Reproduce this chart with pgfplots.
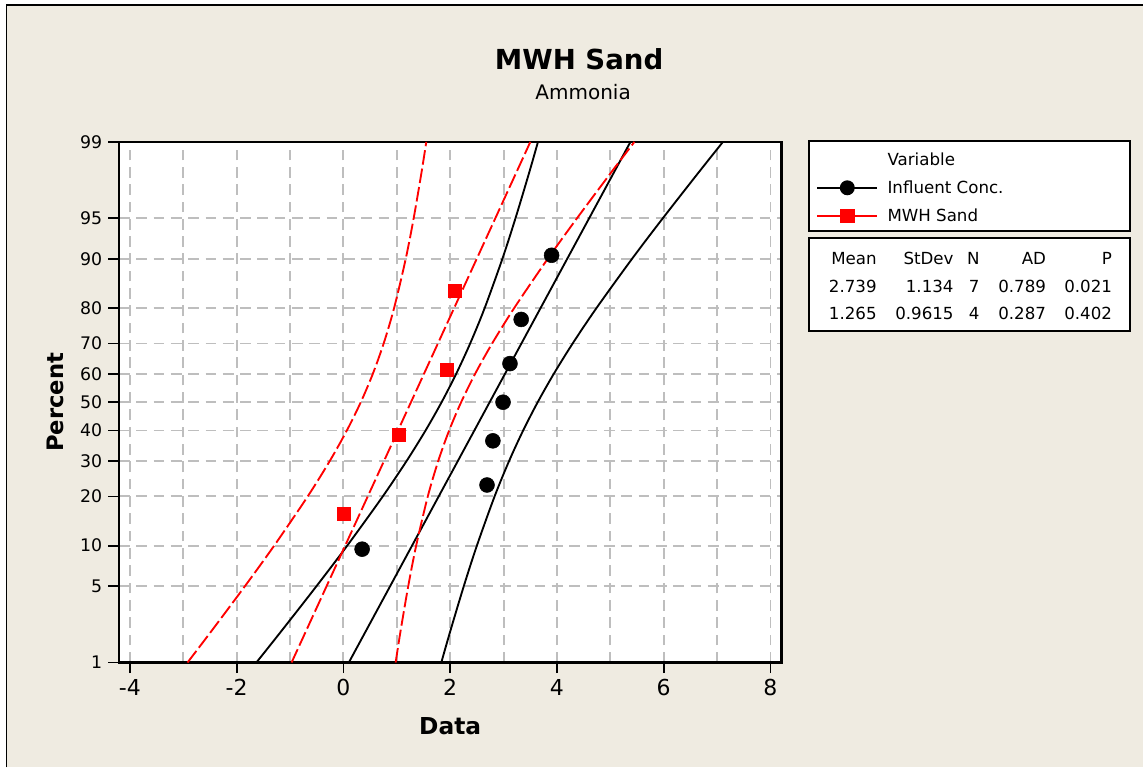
\documentclass[border=0pt]{standalone}
\usepackage{fontspec}
\setmainfont{DejaVu Sans}
\usepackage{pgfplots}
\pgfplotsset{compat=1.18}
\definecolor{bg}{RGB}{239,235,225}
\definecolor{gridgray}{RGB}{190,190,190}
\begin{document}
\begin{tikzpicture}[x=1pt,y=1pt]
\fill[white] (-89.25,-78.75) rectangle (768.75,497.25);
\fill[bg] (-84.375,-78.75) rectangle (768.75,493.5);
\draw[line width=1.2pt] (-84.375,-78.75) -- (-84.375,493.5) -- (768.75,493.5);
\useasboundingbox (-89.25,-78.75) rectangle (768.75,497.25);
% legend and stats boxes
\draw[line width=1.4pt, fill=white] (517.7,391.5) rectangle (758.8,324.2);
\draw[line width=1.4pt, fill=white] (517.7,318.5) rectangle (758.8,249);
\begin{axis}[
  scale only axis, width=497.25pt, height=390.75pt,
  at={(0pt,0pt)}, anchor=south west,
  xmin=-4.206, xmax=8.206, ymin=-2.3263, ymax=2.3263,
  axis background/.style={fill=white},
  xtick={-4,-2,0,2,4,6,8}, xticklabels={-4,-2,0,2,4,6,8},
  minor xtick={-3,-1,1,3,5,7},
  ytick={-2.3263,-1.6449,-1.2816,-0.8416,-0.5244,-0.2533,0,0.2533,0.5244,0.8416,1.2816,1.6449,2.3263},
  yticklabels={1,5,10,20,30,40,50,60,70,80,90,95,99},
  tick pos=left, tick align=outside,
  major tick length=8pt, minor tick length=0pt,
  tick style={black, line width=1.3pt},
  axis line style={line width=1.6pt},
  xmajorgrids, ymajorgrids, xminorgrids,
  major grid style={gridgray, line width=1.4pt, dash pattern=on 8pt off 5pt},
  minor grid style={gridgray, line width=1.4pt, dash pattern=on 8pt off 5pt},
  x tick label style={font=\fontsize{16.5}{18}\selectfont, yshift=-1pt},
  y tick label style={font=\fontsize{13}{15}\selectfont, xshift=-1pt},
  xlabel={Data}, ylabel={Percent},
  xlabel style={font=\fontsize{17.5}{20}\selectfont\bfseries, at={(axis description cs:0.5,-0.1228)}, anchor=center},
  ylabel style={font=\fontsize{17}{20}\selectfont\bfseries, at={(axis description cs:-0.0965,0.5)}, anchor=center},
  legend style={at={(1.0463,0.9904)}, anchor=north west, draw=none, fill=none,
    font=\fontsize{12.5}{15}\selectfont, row sep=6pt},
  legend cell align=left,
  legend image code/.code={\draw[mark repeat=2,mark phase=2,#1] plot coordinates {(0pt,0pt) (22.5pt,0pt) (45pt,0pt)}; \path (50pt,0pt);},
]
% Influent Conc. (black): fit and confidence bands
\addplot[black, line width=1.4pt, forget plot] coordinates {(0.101,-2.3263) (5.377,2.3263)};
\addplot[black, line width=1.4pt, smooth, forget plot] coordinates {(-1.6316,-2.3263) (-1.1768,-2.0537) (-0.5068,-1.6449) (0.0711,-1.2816) (0.7373,-0.8416) (1.1844,-0.5244) (1.5375,-0.2533) (1.839,0) (2.1119,0.2533) (2.3738,0.5244) (2.6461,0.8416) (2.9777,1.2816) (3.2238,1.6449) (3.4810,2.0537) (3.6444,2.3263)};
\addplot[black, line width=1.4pt, smooth, forget plot] coordinates {(1.8336,-2.3263) (1.9970,-2.0537) (2.2542,-1.6449) (2.5003,-1.2816) (2.8319,-0.8416) (3.1042,-0.5244) (3.3661,-0.2533) (3.639,0) (3.9405,0.2533) (4.2936,0.5244) (4.7407,0.8416) (5.4069,1.2816) (5.9848,1.6449) (6.6548,2.0537) (7.1096,2.3263)};
% MWH Sand (red): fit and confidence bands
\addplot[red, line width=1.4pt, dash pattern=on 11pt off 3pt, forget plot] coordinates {(-0.9717,-2.3263) (3.5017,2.3263)};
\addplot[red, line width=1.4pt, dash pattern=on 11pt off 3pt, smooth, forget plot] coordinates {(-2.9212,-2.3263) (-2.4864,-2.0537) (-1.8469,-1.6449) (-1.2973,-1.2816) (-0.6691,-0.8416) (-0.2550,-0.5244) (0.0632,-0.2533) (0.325,0) (0.5502,0.2533) (0.7534,0.5244) (0.9493,0.8416) (1.1673,1.2816) (1.3163,1.6449) (1.4628,2.0537) (1.5522,2.3263)};
\addplot[red, line width=1.4pt, dash pattern=on 11pt off 3pt, smooth, forget plot] coordinates {(0.9778,-2.3263) (1.0672,-2.0537) (1.2137,-1.6449) (1.3627,-1.2816) (1.5807,-0.8416) (1.7766,-0.5244) (1.9798,-0.2533) (2.205,0) (2.4668,0.2533) (2.7850,0.5244) (3.1991,0.8416) (3.8273,1.2816) (4.3769,1.6449) (5.0164,2.0537) (5.4512,2.3263)};
% data points
\addplot[only marks, mark=*, mark size=5.6pt, black, forget plot] coordinates {(0.35,-1.3131) (2.69,-0.7398) (2.80,-0.3451) (2.99,0) (3.12,0.3451) (3.33,0.7398) (3.90,1.3131)};
\addplot[only marks, mark=square*, mark size=5pt, red, forget plot] coordinates {(0,-0.9985) (1.04,-0.2887) (1.93,0.2887) (2.09,0.9985)};
% legend
\addlegendimage{empty legend}
\addlegendentry{Variable}
\addlegendimage{black, line width=1.4pt, mark=*, mark size=4.9pt}
\addlegendentry{Influent Conc.}
\addlegendimage{red, line width=1.4pt, mark=square*, mark size=4.7pt}
\addlegendentry{MWH Sand}
\end{axis}
% titles
\node[anchor=base, font=\fontsize{20.7}{24}\selectfont\bfseries] at (345.4,444.75) {MWH Sand};
\node[anchor=base, font=\fontsize{15}{18}\selectfont] at (348.4,422.25) {Ammonia};
% statistics table
\begin{scope}[every node/.style={anchor=base east, font=\fontsize{12.5}{15}\selectfont, inner sep=0pt}]
\node at (568.9,298.5) {Mean};
\node at (626.6,298.5) {StDev};
\node at (646.1,298.5) {N};
\node at (696,298.5) {AD};
\node at (745.5,298.5) {P};
\node at (568.9,278.0) {2.739};
\node at (626.6,278.0) {1.134};
\node at (646.1,278.0) {7};
\node at (696,278.0) {0.789};
\node at (745.5,278.0) {0.021};
\node at (568.9,257.8) {1.265};
\node at (626.6,257.8) {0.9615};
\node at (646.1,257.8) {4};
\node at (696,257.8) {0.287};
\node at (745.5,257.8) {0.402};
\end{scope}
\end{tikzpicture}
\end{document}
